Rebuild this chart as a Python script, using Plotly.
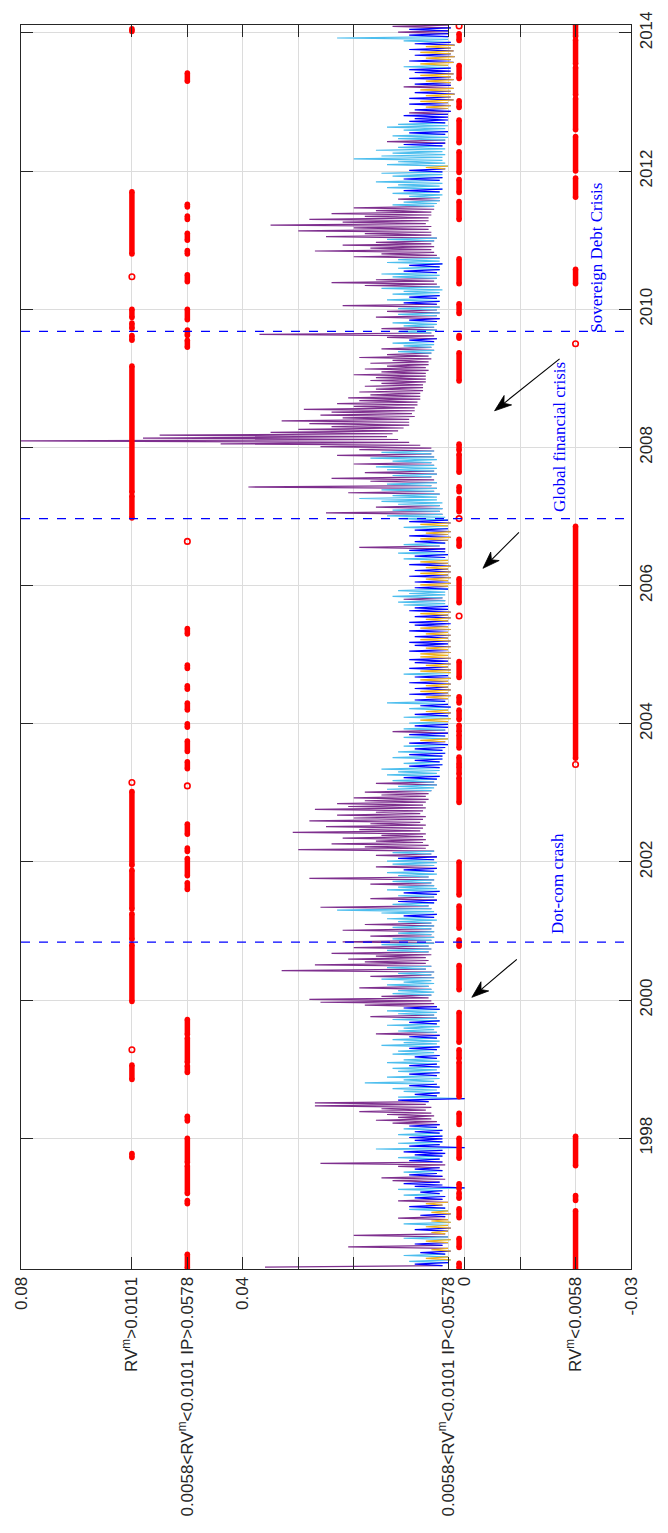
import math
import plotly.graph_objects as go

# ---------------- axis ticks ----------------
year_ticks = [1998, 2000, 2002, 2004, 2006, 2008, 2010, 2012, 2014]
year_labels = ["1998", "2000", "2002", "2004", "2006", "2008", "2010", "2012", "2014"]

val_ticks = [0.08, 0.06, 0.05, 0.04, 0.003, 0.0, -0.02, -0.03]
val_labels = ["0.08", "RV<sup>m</sup>&gt;0.0101",
              "0.0058&lt;RV<sup>m</sup>&lt;0.0101 IP&gt;0.0578", "0.04",
              "0.0058&lt;RV<sup>m</sup>&lt;0.0101 IP&lt;0.0578", "0",
              "RV<sup>m</sup>&lt;0.0058", "-0.03"]
val_minor_ticks = [0.03, 0.02, -0.01]

# regime rows (value level of the red markers)
lvl_high, lvl_midhi, lvl_midlo, lvl_low = 0.06, 0.05, 0.001, -0.02

# event lines (decimal years)
events = [("Dot-com crash", 2000.84), ("Global financial crisis", 2006.97),
          ("Sovereign Debt Crisis", 2009.68)]

# ---------------- RV series (per mille), half-month samples ----------------
# hi = upper excursion, lo = lower excursion, col = colour of each excursion
# p purple, l light blue, d dark blue, o orange
first_k = {1996: 3}
hi_1996 = [36, 9, 10, 7, 11, 8, 6, 21, 9, 7, 11, 20, 6, 9, 7, 11, 6, 12, 8, 6, 10]
lo_1996 = [4, 3, 2.5, 3, 3.5, 2.5, 3, 4, 3, 2.5, 3, 3.5, 3, 2.5, 3, 2.5, 3, 3.5, 2.5, 3, 3.5]
col_1996 = "pdlo ldop dolp odol opdo l"
hi_1997 = [10, 7, 12, 9, 11, 8, 12, 9, 11, 13, 15, 10, 11, 9, 12, 26, 10, 12, 9, 11, 16, 10, 12, 9]
lo_1997 = [4, 3, 4, 3.5, 4.5, 4, 0, 4, 4.5, 3.5, 4, 5, 4, 4.5, 3.5, 4, 4.5, 4, 3.5, 4, 0, 4.5, 4, 4]
col_1997 = "dopd ldld dppd ldpp dldd ldld"
hi_1998 = [10, 12, 9, 11, 10, 13, 16, 12, 14, 19, 15, 27, 27, 12, 12, 9, 11, 13, 10, 18, 11, 14, 10, 12]
lo_1998 = [4, 4.5, 4, 5, 4.5, 5, 6, 5.5, 6, 7, 6, 7, 6.5, 0, 5, 4.5, 5, 4.5, 5, 5.5, 4.5, 5, 4.5, 5]
col_1998 = "dldl dppp pppp pdld lldl lldl"
hi_1999 = [13, 10, 14, 11, 9, 13, 12, 10, 15, 11, 13, 10, 16, 12, 11, 14, 10, 13, 17, 12, 14, 11, 18, 26]
lo_1999 = [4.5, 5, 4.5, 5, 4.5, 5.5, 5, 4.5, 5, 4.5, 5, 4.5, 5, 5.5, 4.5, 5, 4.5, 5, 5.5, 5, 4.5, 5, 5.5, 6]
col_1999 = "ldll dlld llld plll dlpl ldpp"
hi_2000 = [28, 15, 13, 12, 19, 14, 11, 15, 17, 12, 33, 14, 27, 18, 21, 16, 24, 14, 20, 15, 22, 13, 17, 12]
lo_2000 = [6.5, 6, 5.5, 6, 6.5, 5.5, 6, 5.5, 6, 5.5, 7, 6, 7, 6.5, 7, 6, 6.5, 6, 6.5, 5.5, 6, 5.5, 6, 5.5]
col_2000 = "ppll plll plpl pppp plpl plpl"
hi_2001 = [22, 13, 18, 12, 14, 11, 15, 23, 26, 13, 12, 17, 12, 11, 14, 12, 17, 13, 28, 12, 14, 11, 16, 13]
lo_2001 = [6, 5.5, 6, 5, 5.5, 5, 5.5, 6, 6.5, 5.5, 5, 5.5, 5, 4.5, 5, 5.5, 6, 5.5, 6.5, 5, 5.5, 5, 5.5, 5]
col_2001 = "plpl ldll pldp ldll plpl ldpl"
hi_2002 = [14, 12, 16, 13, 30, 18, 24, 16, 22, 15, 31, 19, 25, 17, 28, 20, 23, 16, 27, 21, 23, 18, 20, 15]
lo_2002 = [5.5, 5, 6, 5.5, 7, 6.5, 7.5, 7, 7.5, 7, 8, 7.5, 7, 8, 7.5, 7, 8, 7.5, 7, 7.5, 7, 6.5, 7, 6.5]
col_2002 = "ldpl pppp pppp pppp pppp pppp"
hi_2003 = [18, 14, 12, 16, 13, 11, 14, 12, 15, 10, 11, 9, 13, 10, 12, 9, 11, 10, 8, 11, 10, 13, 11, 9]
lo_2003 = [6, 5.5, 5, 5.5, 5, 4.5, 5, 4.5, 4.5, 4, 4.5, 4, 4, 3.5, 4, 3.5, 3, 3.5, 3, 3.5, 3, 3.5, 3, 3]
col_2003 = "pllp ldll ldld ldld ldol dpld"
hi_2004 = [10, 8, 11, 9, 7, 10, 8, 14, 9, 7, 10, 8, 9, 7, 10, 8, 9, 11, 8, 10, 7, 9, 10, 8]
lo_2004 = [3, 2.5, 3, 2.5, 3, 2.5, 3, 3.5, 3, 2.5, 3, 2.5, 3, 2.5, 3, 2.5, 3, 2.5, 2.5, 3, 2.5, 3, 2.5, 3]
col_2004 = "lold oldl dodo dodo dlod oddo"
hi_2005 = [8, 10, 7, 9, 10, 8, 9, 7, 10, 8, 9, 10, 7, 9, 8, 10, 9, 11, 12, 11, 13, 10, 12, 9]
lo_2005 = [2.5, 3, 2.5, 3, 2.5, 3, 2.5, 3, 2.5, 3, 2.5, 3, 2.5, 3, 2.5, 3, 3, 3.5, 3.5, 4, 3.5, 3.5, 3, 3]
col_2005 = "odod dodo dodd odod dllp llld"
hi_2006 = [8, 9, 7, 10, 8, 9, 7, 10, 8, 11, 9, 12, 10, 19, 11, 9, 8, 10, 7, 9, 11, 8, 10, 12]
lo_2006 = [2.5, 3, 2.5, 3, 2.5, 3, 2.5, 3, 3, 3.5, 3, 3.5, 3.5, 4.5, 3.5, 3, 2.5, 3, 2.5, 3, 3, 2.5, 3, 3.5]
col_2006 = "odod odod oldl dpld odod lodl"
hi_2007 = [14, 25, 13, 16, 12, 15, 19, 13, 21, 15, 39, 14, 17, 24, 13, 18, 14, 16, 20, 13, 17, 23, 15, 19]
lo_2007 = [4, 4.5, 4, 4.5, 4, 5, 5, 4.5, 5.5, 5, 6, 5, 5.5, 6, 5, 5.5, 5, 5.5, 6, 5, 5.5, 6, 5.5, 6]
col_2007 = "lplp llll plpl pplp llpl lplp"
hi_2008 = [26, 44, 80, 58, 55, 35, 30, 24, 28, 33, 22, 26, 24, 29, 20, 23, 19, 21, 17, 19, 16, 18, 15, 17]
lo_2008 = [8, 10, 12, 14, 13, 12, 11, 10, 10, 10, 9, 9.5, 9, 9, 8.5, 8.5, 8, 8, 8, 7.5, 7.5, 7.5, 7, 7]
col_2008 = "pppp pppp pppp pppp pppp pppp"
hi_2009 = [16, 20, 15, 18, 14, 17, 13, 19, 14, 12, 15, 11, 13, 10, 14, 37, 12, 15, 11, 13, 10, 16, 12, 14]
lo_2009 = [7, 7, 6.5, 7, 6.5, 6.5, 6, 6.5, 6, 5.5, 6, 5.5, 5.5, 5, 5.5, 6, 5, 5.5, 5, 5, 4.5, 5, 4.5, 5]
col_2009 = "pppp pppp plpl ldpp lpll dplp"
hi_2010 = [12, 22, 11, 14, 10, 13, 11, 15, 18, 24, 16, 13, 15, 11, 12, 10, 14, 12, 20, 15, 27, 17, 22, 16]
lo_2010 = [4.5, 5, 4.5, 5, 4.5, 4.5, 4, 4.5, 5, 5.5, 5, 4.5, 5, 4.5, 4.5, 4, 4.5, 4.5, 5, 5.5, 6, 5.5, 6, 5.5]
col_2010 = "lpdl dlll pppl ldld llpp pppp"
hi_2011 = [14, 25, 18, 30, 20, 35, 22, 28, 18, 24, 16, 20, 13, 11, 12, 10, 13, 11, 14, 12, 16, 11, 13, 15]
lo_2011 = [5, 6, 6, 6.5, 6, 7, 6.5, 6.5, 6, 6, 5.5, 5.5, 5, 4.5, 4.5, 4, 4.5, 4, 4.5, 4, 4.5, 4, 4, 4]
col_2011 = "lppp pppp pppp llpl ldll ldll"
hi_2012 = [10, 7, 14, 12, 20, 15, 13, 16, 12, 11, 14, 12, 13, 10, 11, 14, 12, 10, 9, 11, 10, 9, 7, 10]
lo_2012 = [3.5, 3, 3.5, 4, 4, 3.5, 4, 3.5, 4, 3.5, 3.5, 3, 3.5, 3, 3.5, 3, 3.5, 3, 3, 3, 2.5, 3, 2.5, 3]
col_2012 = "doll llll ldpl ldll lddd pdod"
hi_2013 = [8, 10, 7, 9, 8, 11, 9, 7, 10, 8, 9, 10, 11, 8, 10, 7, 9, 8, 10, 7, 9, 11, 23, 10]
lo_2013 = [2, 2.5, 1.8, 2.5, 2, 2.5, 2.5, 2, 2.5, 2, 2.5, 2.5, 3, 2, 2.5, 1.8, 2.5, 2, 2.5, 1.8, 2.5, 3, 3, 3]
col_2013 = "odod opdo dodd lodo dodo dlld"
hi_2014 = [12, 10, 13]
lo_2014 = [3, 2.5, 3]
col_2014 = "pdp"

series = {
    1996: (hi_1996, lo_1996, col_1996), 1997: (hi_1997, lo_1997, col_1997),
    1998: (hi_1998, lo_1998, col_1998), 1999: (hi_1999, lo_1999, col_1999),
    2000: (hi_2000, lo_2000, col_2000), 2001: (hi_2001, lo_2001, col_2001),
    2002: (hi_2002, lo_2002, col_2002), 2003: (hi_2003, lo_2003, col_2003),
    2004: (hi_2004, lo_2004, col_2004), 2005: (hi_2005, lo_2005, col_2005),
    2006: (hi_2006, lo_2006, col_2006), 2007: (hi_2007, lo_2007, col_2007),
    2008: (hi_2008, lo_2008, col_2008), 2009: (hi_2009, lo_2009, col_2009),
    2010: (hi_2010, lo_2010, col_2010), 2011: (hi_2011, lo_2011, col_2011),
    2012: (hi_2012, lo_2012, col_2012), 2013: (hi_2013, lo_2013, col_2013),
    2014: (hi_2014, lo_2014, col_2014),
}

# ---------------- regime membership (decimal-year intervals) ----------------
reg_high = [(1997.72, 1997.78), (1998.85, 1999.06), (1999.28, 1999.28), (1999.98, 2000.80),
            (2000.88, 2001.25), (2001.32, 2001.88), (2001.95, 2003.02), (2003.15, 2003.15),
            (2006.98, 2007.30), (2007.35, 2009.18), (2009.55, 2009.62), (2009.72, 2009.80),
            (2009.88, 2010.0), (2010.47, 2010.47), (2010.80, 2011.70), (2014.02, 2014.06)]
reg_midhi = [(1996.12, 1996.32), (1997.05, 1997.10), (1997.20, 1997.60), (1997.65, 1998.0),
             (1998.25, 1998.32), (1998.95, 1999.05), (1999.10, 1999.45), (1999.50, 1999.72),
             (2001.60, 2001.70), (2001.80, 2002.05), (2002.15, 2002.20), (2002.40, 2002.55),
             (2003.10, 2003.10), (2003.35, 2003.45), (2003.60, 2003.75), (2003.95, 2004.0),
             (2004.20, 2004.30), (2004.50, 2004.55), (2004.80, 2004.85), (2005.30, 2005.38),
             (2006.64, 2006.64), (2009.45, 2009.55), (2009.62, 2009.70), (2009.85, 2010.0),
             (2010.40, 2010.50), (2010.80, 2010.85), (2011.0, 2011.10), (2011.30, 2011.35),
             (2011.48, 2011.52), (2013.30, 2013.42)]
reg_midlo = [(1996.12, 1996.19), (1996.42, 1996.55), (1996.85, 1996.98), (1997.13, 1997.21),
             (1997.27, 1997.34), (1997.71, 1998.0), (1998.20, 1998.36), (1998.60, 1999.10),
             (1999.15, 1999.28), (1999.39, 1999.82), (2000.15, 2000.50), (2000.78, 2000.87),
             (2001.04, 2001.36), (2001.52, 2002.0), (2002.86, 2003.22), (2003.27, 2003.38),
             (2003.41, 2003.52), (2003.65, 2003.84), (2003.88, 2003.98), (2004.06, 2004.20),
             (2004.30, 2004.39), (2004.67, 2004.90), (2005.56, 2005.56), (2005.75, 2006.10),
             (2006.57, 2006.67), (2006.97, 2006.97), (2007.07, 2007.26), (2007.36, 2007.43),
             (2007.64, 2007.90), (2007.96, 2008.05), (2008.96, 2009.37), (2009.58, 2009.62),
             (2009.94, 2010.08), (2010.37, 2010.73), (2011.30, 2011.56), (2011.69, 2011.88),
             (2011.98, 2012.28), (2012.41, 2012.74), (2012.92, 2013.02), (2013.34, 2013.53),
             (2013.89, 2013.99), (2014.10, 2014.10)]
reg_low = [(1996.10, 1996.95), (1997.10, 1997.17), (1997.60, 1998.03), (2003.41, 2003.41),
           (2003.50, 2006.86), (2009.50, 2009.50), (2010.37, 2010.58), (2011.62, 2011.90),
           (2012.0, 2012.50), (2012.60, 2013.05), (2013.10, 2013.50), (2013.55, 2013.90),
           (2013.95, 2014.12)]

# ---------------- build the coloured RV line ----------------
t_pts, v_pts, c_pts = [], [], []
for yr in sorted(series):
    hi, lo, col = series[yr]
    col = col.replace(" ", "")
    k0 = first_k.get(yr, 0)
    n = min(len(hi), len(lo), len(col))
    for i in range(n):
        k = k0 + i
        t_pts.append(yr + (k + 0.25) / 24.0); v_pts.append(hi[i] / 1000.0); c_pts.append(col[i])
        t_pts.append(yr + (k + 0.75) / 24.0); v_pts.append(lo[i] / 1000.0); c_pts.append(col[i])

colors = {"p": "#7E2F8E", "l": "#4DBEEE", "d": "#0000FF", "o": "#EDB120"}
fig = go.Figure()
for code in ["p", "l", "d", "o"]:
    xs, ys = [], []
    prev = False
    for j in range(1, len(t_pts)):
        if c_pts[j] == code:
            if not prev:
                xs += [None, v_pts[j - 1]]; ys += [None, t_pts[j - 1]]
            xs.append(v_pts[j]); ys.append(t_pts[j])
            prev = True
        else:
            prev = False
    fig.add_trace(go.Scatter(x=xs, y=ys, mode="lines", line=dict(color=colors[code], width=1.2),
                             connectgaps=False, hoverinfo="skip", showlegend=False))

# ---------------- regime markers ----------------
for lvl, ivs in [(lvl_high, reg_high), (lvl_midhi, reg_midhi), (lvl_midlo, reg_midlo), (lvl_low, reg_low)]:
    xs, ys, px, py = [], [], [], []
    for a, b in ivs:
        if b > a:
            xs += [lvl, lvl, None]; ys += [a, b, None]
        else:
            px.append(lvl); py.append(a)
    fig.add_trace(go.Scatter(x=xs, y=ys, mode="lines+markers",
                             line=dict(color="#FF0000", width=5.5),
                             marker=dict(color="#FF0000", size=5.5, symbol="circle"),
                             hoverinfo="skip", showlegend=False))
    if px:
        fig.add_trace(go.Scatter(x=px, y=py, mode="markers",
                                 marker=dict(color="rgba(0,0,0,0)", size=5.5, symbol="circle",
                                             line=dict(color="#FF0000", width=1.6)),
                                 hoverinfo="skip", showlegend=False))

# ---------------- event lines & labels ----------------
for name, yr in events:
    fig.add_shape(type="line", xref="paper", x0=0, x1=1, yref="y", y0=yr, y1=yr,
                  line=dict(color="#0000FF", width=1.3, dash="dash"))

label_font = dict(family="Liberation Serif, Times New Roman, serif", size=17, color="#0000FF")
fig.add_annotation(x=-0.0168, y=2001.69, text=events[0][0], textangle=-90, showarrow=False,
                   font=label_font, xanchor="center", yanchor="middle")
fig.add_annotation(x=-0.0170, y=2008.15, text=events[1][0], textangle=-90, showarrow=False,
                   font=label_font, xanchor="center", yanchor="middle")
fig.add_annotation(x=-0.0238, y=2010.74, text=events[2][0], textangle=-90, showarrow=False,
                   font=label_font, xanchor="center", yanchor="middle")

# arrows: head anchored in data space, tail offset in screen pixels (right, up)
arrows = [(-0.0013, 2000.04, 45, 38), (-0.0033, 2006.25, 36, 36), (-0.0054, 2008.53, 65, 52)]
for hx, hy, dx, dy in arrows:
    L = math.hypot(dx, dy)
    ux, uy = dx / L, dy / L
    nx, ny = -uy, ux
    hl, hw, notch = 17.0, 6.0, 12.0
    fig.add_shape(type="line", xref="x", yref="y", xsizemode="pixel", ysizemode="pixel",
                  xanchor=hx, yanchor=hy, x0=ux * notch, y0=uy * notch, x1=dx, y1=dy,
                  line=dict(color="#000000", width=1.1))
    pts = [(0, 0), (ux * hl + nx * hw, uy * hl + ny * hw), (ux * notch, uy * notch),
           (ux * hl - nx * hw, uy * hl - ny * hw)]
    path = "M " + " L ".join(f"{p[0]:.2f},{p[1]:.2f}" for p in pts) + " Z"
    fig.add_shape(type="path", xref="x", yref="y", xsizemode="pixel", ysizemode="pixel",
                  xanchor=hx, yanchor=hy, path=path, fillcolor="#000000",
                  line=dict(color="#000000", width=0.8))

tick_font = dict(family="Liberation Sans, Arial, sans-serif", size=17, color="#262626")
fig.update_layout(
    width=668, height=1533, margin=dict(l=18, r=32, t=14, b=264),
    paper_bgcolor="white", plot_bgcolor="white",
    xaxis=dict(range=[0.08, -0.03], tickmode="array", tickvals=val_ticks, ticktext=val_labels,
               tickangle=-90, tickfont=tick_font, showgrid=True, gridcolor="#DCDCDC", gridwidth=1,
               zeroline=False, showline=True, linecolor="#262626", linewidth=1, mirror="ticks",
               ticks="inside", ticklen=12, tickcolor="#262626", ticklabeloverflow="allow",
               minor=dict(tickmode="array", tickvals=val_minor_ticks, ticks="inside", ticklen=12,
                          tickcolor="#262626", showgrid=True, gridcolor="#DCDCDC", gridwidth=1)),
    yaxis=dict(range=[1996.107, 2014.115], tickmode="array", tickvals=year_ticks,
               ticktext=year_labels, side="right", tickangle=-90, tickfont=tick_font,
               showgrid=True, gridcolor="#DCDCDC", gridwidth=1, zeroline=False, showline=True,
               linecolor="#262626", linewidth=1, mirror="ticks", ticks="inside", ticklen=12,
               tickcolor="#262626", ticklabeloverflow="allow"),
)

fig.write_html("out.html")
